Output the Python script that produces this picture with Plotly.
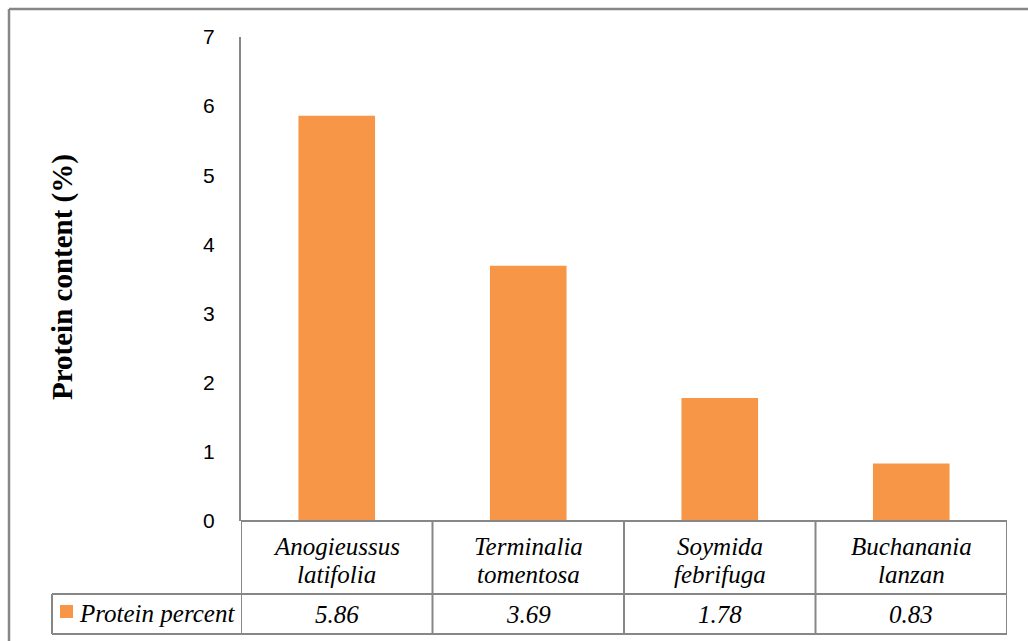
import plotly.graph_objects as go

# Species and their protein content (%)
species = ["Anogieussus latifolia", "Terminalia tomentosa", "Soymida febrifuga", "Buchanania lanzan"]
protein = [5.86, 3.69, 1.78, 0.83]
value_labels = ["5.86", "3.69", "1.78", "0.83"]
series_name = "Protein percent"
y_ticks = [0, 1, 2, 3, 4, 5, 6, 7]

W, H = 1028, 641
ORANGE = "#F79646"
GRID = "#878787"
SERIF = "Liberation Serif"
TABLE_FONT = dict(family=SERIF, size=25, color="black", style="italic")


def px_x(p):
    return p / W


def px_y(p):
    return 1 - p / H


x_left, x_right = 241, 1007
y_zero, y_top = 521, 37
row1_bottom, row2_bottom = 594, 634
legend_left = 52

fig = go.Figure()
fig.add_trace(go.Bar(
    x=list(range(len(species))),
    y=protein,
    marker=dict(color=ORANGE, line=dict(width=0)),
    name=series_name,
    showlegend=False,
))

line_style = dict(color=GRID, width=2)
shapes = []
# outer chart border (top and left edges are inside the page)
shapes.append(dict(type="line", xref="paper", yref="paper",
                   x0=px_x(9), x1=1, y0=px_y(9), y1=px_y(9),
                   line=dict(color=GRID, width=2.5)))
shapes.append(dict(type="line", xref="paper", yref="paper",
                   x0=px_x(9), x1=px_x(9), y0=0, y1=px_y(9),
                   line=dict(color=GRID, width=2.5)))
# data table: horizontal rules
for yy, xl in [(y_zero, x_left), (row1_bottom, legend_left), (row2_bottom, legend_left)]:
    shapes.append(dict(type="line", xref="paper", yref="paper",
                       x0=px_x(xl), x1=px_x(x_right), y0=px_y(yy), y1=px_y(yy),
                       line=line_style))
# data table: column separators
for i in range(len(species) + 1):
    shapes.append(dict(type="line", xref="x", yref="paper",
                       x0=i - 0.5, x1=i - 0.5, y0=px_y(y_zero), y1=px_y(row2_bottom),
                       line=line_style))
# legend cell left edge
shapes.append(dict(type="line", xref="paper", yref="paper",
                   x0=px_x(legend_left), x1=px_x(legend_left),
                   y0=px_y(row1_bottom), y1=px_y(row2_bottom),
                   line=line_style))
# legend key
shapes.append(dict(type="rect", xref="paper", yref="paper",
                   x0=px_x(60), x1=px_x(73), y0=px_y(618), y1=px_y(605),
                   fillcolor=ORANGE, line=dict(width=0)))

annotations = []
for i, (name, val) in enumerate(zip(species, value_labels)):
    genus, epithet = name.split(" ", 1)
    annotations.append(dict(x=i, xref="x", y=px_y(546), yref="paper",
                            text=genus, showarrow=False, xanchor="center", yanchor="middle",
                            font=TABLE_FONT))
    annotations.append(dict(x=i, xref="x", y=px_y(574), yref="paper",
                            text=epithet, showarrow=False, xanchor="center", yanchor="middle",
                            font=TABLE_FONT))
    annotations.append(dict(x=i, xref="x", y=px_y(614), yref="paper",
                            text=val, showarrow=False, xanchor="center", yanchor="middle",
                            font=TABLE_FONT))
annotations.append(dict(x=px_x(77), xref="paper", y=px_y(613), yref="paper",
                        text=series_name, showarrow=False, xanchor="left", yanchor="middle",
                        font=TABLE_FONT))
annotations.append(dict(x=px_x(63), xref="paper", y=px_y(277), yref="paper",
                        text="<b>Protein content (%)</b>", showarrow=False, textangle=-90,
                        xanchor="center", yanchor="middle",
                        font=dict(family=SERIF, size=29, color="black")))

fig.update_layout(
    width=W, height=H,
    margin=dict(l=0, r=0, t=0, b=0, pad=0, autoexpand=False),
    paper_bgcolor="white", plot_bgcolor="white",
    bargap=0.6,
    shapes=shapes,
    annotations=annotations,
    xaxis=dict(domain=[px_x(x_left), px_x(x_right)], range=[-0.5, len(species) - 0.5],
               showticklabels=False, showgrid=False, zeroline=False, showline=False,
               ticks="", automargin=False),
    yaxis=dict(domain=[px_y(y_zero), px_y(y_top)], range=[0, 7], tickvals=y_ticks,
               showgrid=False, zeroline=False, showline=True, linecolor=GRID, linewidth=2,
               ticks="", ticklabelstandoff=20, automargin=False,
               tickfont=dict(family="Liberation Sans", size=21, color="black")),
)

fig.write_html("out.html")
